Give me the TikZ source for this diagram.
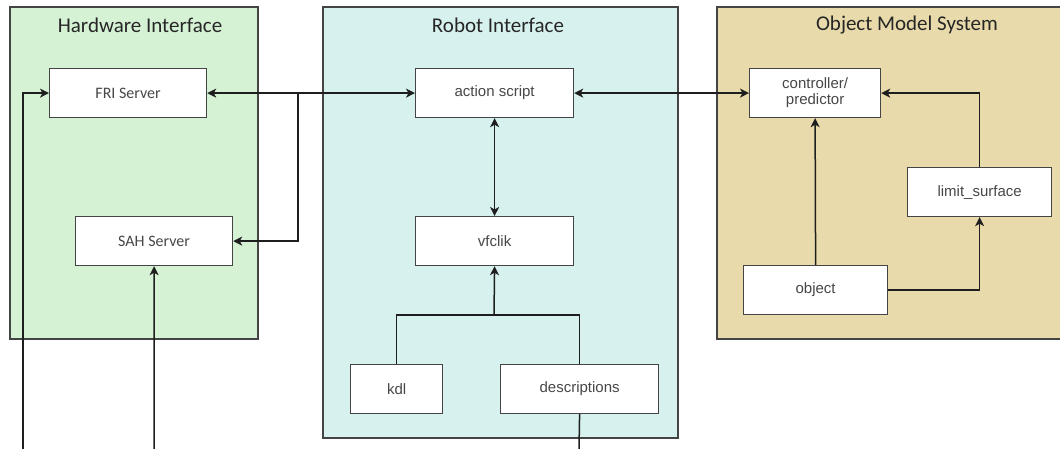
\documentclass[tikz,border=0pt]{standalone}
\usepackage{fontspec}
\setmainfont{Liberation Sans}
\newfontfamily\calibri{Carlito}
\usetikzlibrary{arrows.meta}
\definecolor{hwfill}{HTML}{D6F2D5}
\definecolor{robfill}{HTML}{D7F2EE}
\definecolor{objfill}{HTML}{E8DAAA}
\definecolor{edge}{HTML}{444444}
\definecolor{wire}{HTML}{1E1E1E}
\tikzset{
  x=1pt, y=-1pt,
  panel/.style={draw=edge, line width=1.2pt},
  paneltitle/.style={font=\calibri\fontsize{21}{23}\selectfont, text=black!85},
  block/.style={draw=edge, fill=white, line width=1.2pt, anchor=north west, inner sep=0pt,
    font=\fontsize{15}{17}\selectfont, text=black!72, align=center},
  wirestyle/.style={draw=wire, line width=1.5pt},
  arr/.style={wirestyle, -{Stealth[length=9pt,width=9pt,inset=2.5pt]}},
  biarr/.style={wirestyle, {Stealth[length=9pt,width=9pt,inset=2.5pt]}-{Stealth[length=9pt,width=9pt,inset=2.5pt]}},
}
\begin{document}
\begin{tikzpicture}
\useasboundingbox (0,0) rectangle (1060,449);

% panels
\fill[hwfill] (10,7) rectangle (258,339);
\draw[panel] (10,7) rectangle (258,339);
\fill[robfill] (323,7) rectangle (678,438);
\draw[panel] (323,7) rectangle (678,438);
\fill[objfill] (717,7) rectangle (1060,339);
\draw[panel] (1060,7) -- (717,7) -- (717,339) -- (1060,339);

\node[paneltitle] (thw) at (140,25) {Hardware Interface};
\node[paneltitle] (trob) at (498,25) {Robot Interface};
\node[paneltitle] (tobj) at (907,25) {Object Model System};

% hardware interface
\node[block, minimum width=157pt, minimum height=49pt, font=\calibri\fontsize{16}{18}\selectfont] (fri) at (49,68) {FRI Server};
\node[block, minimum width=157pt, minimum height=49pt, font=\calibri\fontsize{16}{18}\selectfont] (sah) at (75,216) {SAH Server};

% robot interface
\node[block, minimum width=158pt, minimum height=49pt] (act) at (415,68) {action script};
\node[block, minimum width=158pt, minimum height=49pt] (vf) at (415,216) {vfclik};
\node[block, minimum width=92pt, minimum height=49pt] (kdl) at (350,364) {kdl};
\node[block, minimum width=158pt, minimum height=49pt] (desc) at (500,364) {descriptions};

% object model system
\node[block, minimum width=131pt, minimum height=49pt] (ctrl) at (749,68) {controller/\\[-1pt]predictor};
\node[block, minimum width=144pt, minimum height=49pt] (ls) at (907,167) {limit\_surface};
\node[block, minimum width=144pt, minimum height=49pt] (obj) at (743,265) {object};

% free ends and junctions
\coordinate (jfri) at (298,93);
\coordinate (inl) at (23,449);
\coordinate (insah) at (154,449);
\coordinate (jkd) at (494,315);
\coordinate (outd) at (579,449);

% connectors
\draw[biarr] (fri.east) -- (act.west);
\draw[arr] (jfri) |- (sah.east);
\draw[arr] (inl) |- (fri.west);
\draw[arr] (insah) -- (sah.south);
\draw[biarr] (act.south) -- (vf.north);
\draw[wirestyle] (kdl.north) |- (desc.north |- jkd) -- (desc.north);
\draw[arr] (jkd) -- (vf.south);
\draw[wirestyle] (desc.south) -- (outd);
\draw[biarr] (act.east) -- (ctrl.west);
\draw[arr] (obj.north) -- (ctrl.south);
\draw[arr] (obj.east) -| (ls.south);
\draw[arr] (ls.north) |- (ctrl.east);
\end{tikzpicture}
\end{document}
